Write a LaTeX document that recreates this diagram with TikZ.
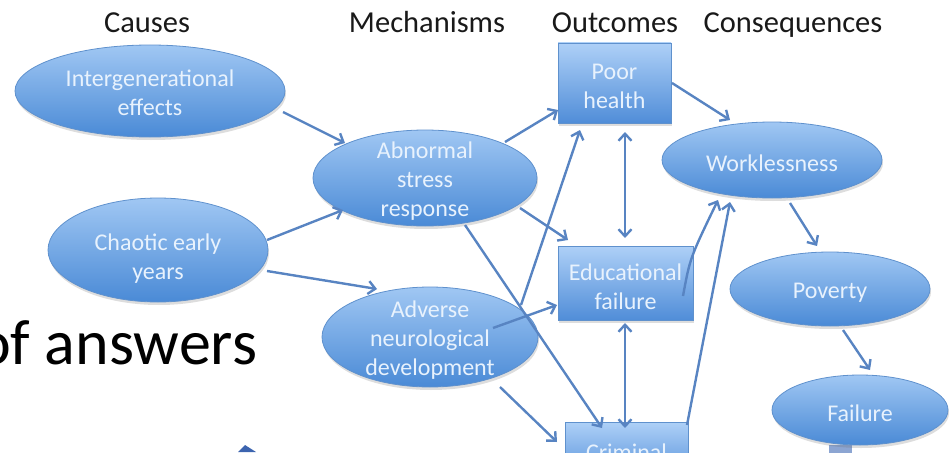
\documentclass[tikz,border=0pt]{standalone}
\usepackage{fontspec}
\setmainfont{Carlito}
\usetikzlibrary{shapes.geometric,arrows.meta,calc,shadows}
\definecolor{ellT}{RGB}{160,199,243}
\definecolor{ellB}{RGB}{74,138,214}
\definecolor{recT}{RGB}{174,208,247}
\definecolor{recB}{RGB}{80,141,216}
\definecolor{bord}{RGB}{95,145,205}
\definecolor{txtc}{RGB}{232,242,253}
\definecolor{arrc}{RGB}{88,132,194}
\definecolor{fragc}{RGB}{60,100,175}
\definecolor{fragg}{RGB}{140,165,210}
\tikzset{
  shade/.style={drop shadow={shadow xshift=1pt, shadow yshift=-3pt, opacity=0.22, fill=black!60}},
  bub/.style={ellipse, inner sep=0pt, draw=bord, line width=0.8pt, top color=ellT, bottom color=ellB, shade},
  boxn/.style={rectangle, inner sep=0pt, draw=bord, line width=0.8pt, top color=recT, bottom color=recB, shade},
  lbl/.style={text=txtc, align=center, inner sep=0pt, yshift=-3pt, font=\fontsize{24}{29}\selectfont},
  head/.style={anchor=base, inner sep=0pt, font=\fontsize{30.5}{34}\selectfont, text=black!90},
  conn/.style={draw=arrc, line width=2.4pt, -{Straight Barb[length=7pt,width=13pt]}},
  dconn/.style={draw=arrc, line width=2.4pt, {Straight Barb[length=7pt,width=13pt]}-{Straight Barb[length=7pt,width=13pt]}}
}
\begin{document}
\begin{tikzpicture}[x=1pt,y=-1pt]
\useasboundingbox (0,0) rectangle (952,452);
\clip (0,0) rectangle (952,452);

% headers
\node[head] (hCauses) at (147,33) {Causes};
\node[head] (hMech) at (427,33) {Mechanisms};
\node[head] (hOut) at (615,33) {Outcomes};
\node[head] (hCons) at (793,33) {Consequences};

% big text fragment
\node[anchor=base west, inner sep=0pt, font=\fontsize{64}{66}\selectfont] (answers) at (-23,364) {of answers};

% fragments at the bottom edge
\fill[fragc] (238,452) -- (245,445) -- (256,452) -- cycle;
\fill[fragg] (829,445) rectangle (852,460);

% nodes
\node[bub, minimum width=270pt, minimum height=92pt, label={[lbl, yshift=1pt]center:Intergenerational\\effects}] (inter) at (150,91) {};
\node[bub, minimum width=220pt, minimum height=104pt, label={[lbl, yshift=-6pt]center:Chaotic early\\years}] (chaos) at (158,250) {};
\node[bub, minimum width=224pt, minimum height=96pt, label={[lbl]center:Abnormal\\stress\\response}] (abn) at (425,178) {};
\node[bub, minimum width=216pt, minimum height=100pt, label={[lbl]center:Adverse\\neurological\\development}] (adv) at (430,337) {};
\node[boxn, minimum width=113pt, minimum height=80pt, label={[lbl]center:Poor\\health}] (poor) at (614.5,83) {};
\node[boxn, minimum width=135pt, minimum height=74pt, label={[lbl, yshift=-1pt]center:Educational\\failure}] (edu) at (625.5,283) {};
\node[boxn, minimum width=123pt, minimum height=60pt, label={[lbl, yshift=3pt]center:Criminal}] (crim) at (626.5,452) {};
\node[bub, minimum width=220pt, minimum height=76pt, label={[lbl]center:Worklessness}] (work) at (772,160) {};
\node[bub, minimum width=200pt, minimum height=74pt, label={[lbl, yshift=-1pt]center:Poverty}] (pov) at (830,289) {};
\node[bub, minimum width=176pt, minimum height=70pt, label={[lbl]center:Failure}] (fail) at (860,410) {};

% connectors
\draw[conn] ($(inter.center)+(133,21)$) -- ($(abn.center)+(-80,-35)$);
\draw[conn] ($(chaos.center)+(109,-10)$) -- ($(abn.center)+(-82,32)$);
\draw[conn] ($(chaos.center)+(109,21)$) -- ($(adv.center)+(-53,-48)$);
\draw[conn] ($(abn.center)+(80,-36)$) -- ($(poor.center)+(-56.5,27)$);
\draw[conn] ($(abn.center)+(95,30)$) -- ($(edu.center)+(-57.5,-43)$);
\draw[conn] ($(abn.center)+(40,47)$) -- ($(crim.center)+(-24.5,-24)$);
\draw[conn] ($(adv.center)+(91,-32)$) -- ($(poor.center)+(-34.5,47)$);
\draw[conn] ($(adv.center)+(63,-9)$) -- ($(edu.center)+(-68.5,22)$);
\draw[conn] ($(adv.center)+(70,50)$) -- ($(crim.center)+(-69.5,-10)$);
\draw[dconn] ($(poor.center)+(10.5,49)$) -- ($(edu.center)+(-0.5,-45)$);
\draw[dconn] ($(edu.center)+(-0.5,40)$) -- ($(crim.center)+(-1.5,-24)$);
\draw[conn] ($(poor.center)+(57.5,0)$) -- ($(work.center)+(-42,-40)$);
\draw[conn] ($(edu.center)+(57.5,13)$) .. controls ($(edu.center)+(64.5,-25)$) .. ($(work.center)+(-54,40)$);
\draw[conn] ($(crim.center)+(60.5,-27)$) -- ($(work.center)+(-42,42)$);
\draw[conn] ($(work.center)+(18,43)$) -- ($(pov.center)+(-13,-43)$);
\draw[conn] ($(pov.center)+(13,41)$) -- ($(fail.center)+(10,-40)$);
\end{tikzpicture}
\end{document}
